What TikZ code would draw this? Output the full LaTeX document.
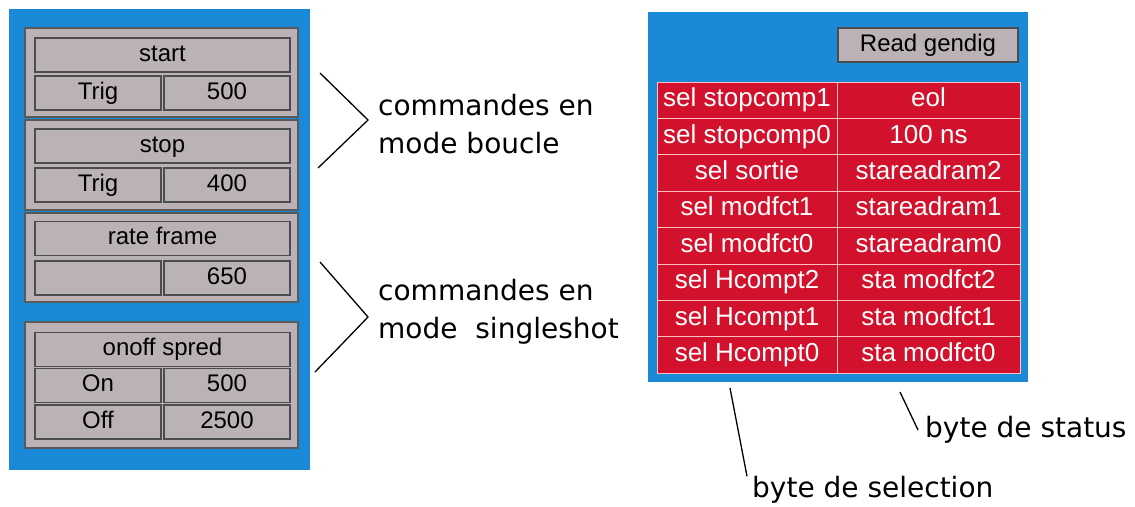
\documentclass[tikz,border=0pt]{standalone}
\usepackage{fontspec}
\setmainfont{Liberation Sans}
\newfontfamily\annfont{DejaVu Sans}
\definecolor{panelblue}{RGB}{26,138,216}
\definecolor{btngray}{RGB}{186,178,180}
\definecolor{cellred}{RGB}{210,18,44}
\tikzset{
  grp/.style={draw=black!65, line width=1.2pt, fill=btngray, inner sep=0pt},
  btn/.style={draw=black!70, line width=1.2pt, fill=btngray, inner sep=0pt, text=black,
    minimum height=34pt, text height=17pt, text depth=5pt, font=\fontsize{24}{24}\selectfont},
  title/.style={btn, minimum width=255pt},
  half/.style={btn, minimum width=126pt},
  cell/.style={draw=red!25!white, line width=1pt, fill=cellred, inner sep=0pt, text=white,
    minimum height=36.4pt, text height=18pt, text depth=5pt, font=\fontsize{26}{26}\selectfont},
  note/.style={font=\annfont\fontsize{28}{38}\selectfont, align=left, anchor=west, inner sep=0pt}
}
\begin{document}
\begin{tikzpicture}[x=1pt,y=-1pt]
\useasboundingbox (0,0) rectangle (1135,506);
\fill[white] (0,0) rectangle (1135,506);
\fill[panelblue] (9,9) rectangle (310,470);
\fill[panelblue] (648,12) rectangle (1028,382);

\path (161.5,72.5) node[grp, minimum width=273pt, minimum height=89pt] (g1) {};
\path (162.5,55) node[title] (start) {start};
\path (98,93) node[half] (trig1) {Trig};
\path (227,93) node[half] (val1) {500};

\path (161.5,165) node[grp, minimum width=273pt, minimum height=90pt] (g2) {};
\path (162.5,146) node[title] (stop) {stop};
\path (98,185) node[half] (trig2) {Trig};
\path (227,185) node[half] (val2) {400};

\path (161.5,257.5) node[grp, minimum width=273pt, minimum height=89pt] (g3) {};
\path (162.5,238.5) node[title] (rate) {rate frame};
\path (98,278) node[half] (empty3) {};
\path (227,278) node[half] (val3) {650};

\path (161.5,385) node[grp, minimum width=273pt, minimum height=126pt] (g4) {};
\path (162.5,349.5) node[title] (onoff) {onoff spred};
\path (98,385.5) node[half] (on) {On};
\path (227,385.5) node[half] (val4) {500};
\path (98,422) node[half] (off) {Off};
\path (227,422) node[half] (val5) {2500};

\coordinate (b1a) at (320,73);
\coordinate (b1b) at (368,120);
\coordinate (b1c) at (318,168);
\draw[line width=1.3pt] (b1a) -- (b1b) -- (b1c);
\coordinate (b2a) at (320,262);
\coordinate (b2b) at (368,317);
\coordinate (b2c) at (315,372);
\draw[line width=1.3pt] (b2a) -- (b2b) -- (b2c);

\path (378,124) node[note] (loop) {commandes en\\mode boucle};
\path (378,312) node[note] (single) {commandes en\\mode\ \ singleshot};

\path (928,45) node[btn, minimum width=180pt] (read) {Read gendig};

\path (747,100.2) node[cell, minimum width=180pt] (s7) {sel stopcomp1};
\path (928.5,100.2) node[cell, minimum width=183pt] (t7) {eol};
\path (747,136.6) node[cell, minimum width=180pt] (s6) {sel stopcomp0};
\path (928.5,136.6) node[cell, minimum width=183pt] (t6) {100 ns};
\path (747,173.0) node[cell, minimum width=180pt] (s5) {sel sortie};
\path (928.5,173.0) node[cell, minimum width=183pt] (t5) {stareadram2};
\path (747,209.4) node[cell, minimum width=180pt] (s4) {sel modfct1};
\path (928.5,209.4) node[cell, minimum width=183pt] (t4) {stareadram1};
\path (747,245.8) node[cell, minimum width=180pt] (s3) {sel modfct0};
\path (928.5,245.8) node[cell, minimum width=183pt] (t3) {stareadram0};
\path (747,282.2) node[cell, minimum width=180pt] (s2) {sel Hcompt2};
\path (928.5,282.2) node[cell, minimum width=183pt] (t2) {sta modfct2};
\path (747,318.6) node[cell, minimum width=180pt] (s1) {sel Hcompt1};
\path (928.5,318.6) node[cell, minimum width=183pt] (t1) {sta modfct1};
\path (747,355.0) node[cell, minimum width=180pt] (s0) {sel Hcompt0};
\path (928.5,355.0) node[cell, minimum width=183pt] (t0) {sta modfct0};

\path (925,430) node[note] (status) {byte de status};
\path (752,490) node[note] (selection) {byte de selection};
\coordinate (p1) at (730,388);
\coordinate (p2) at (900,392);
\draw[line width=1.3pt] (p1) -- ([xshift=-5pt]selection.north west);
\draw[line width=1.3pt] (p2) -- ([xshift=-7pt]status.west);
\end{tikzpicture}
\end{document}
